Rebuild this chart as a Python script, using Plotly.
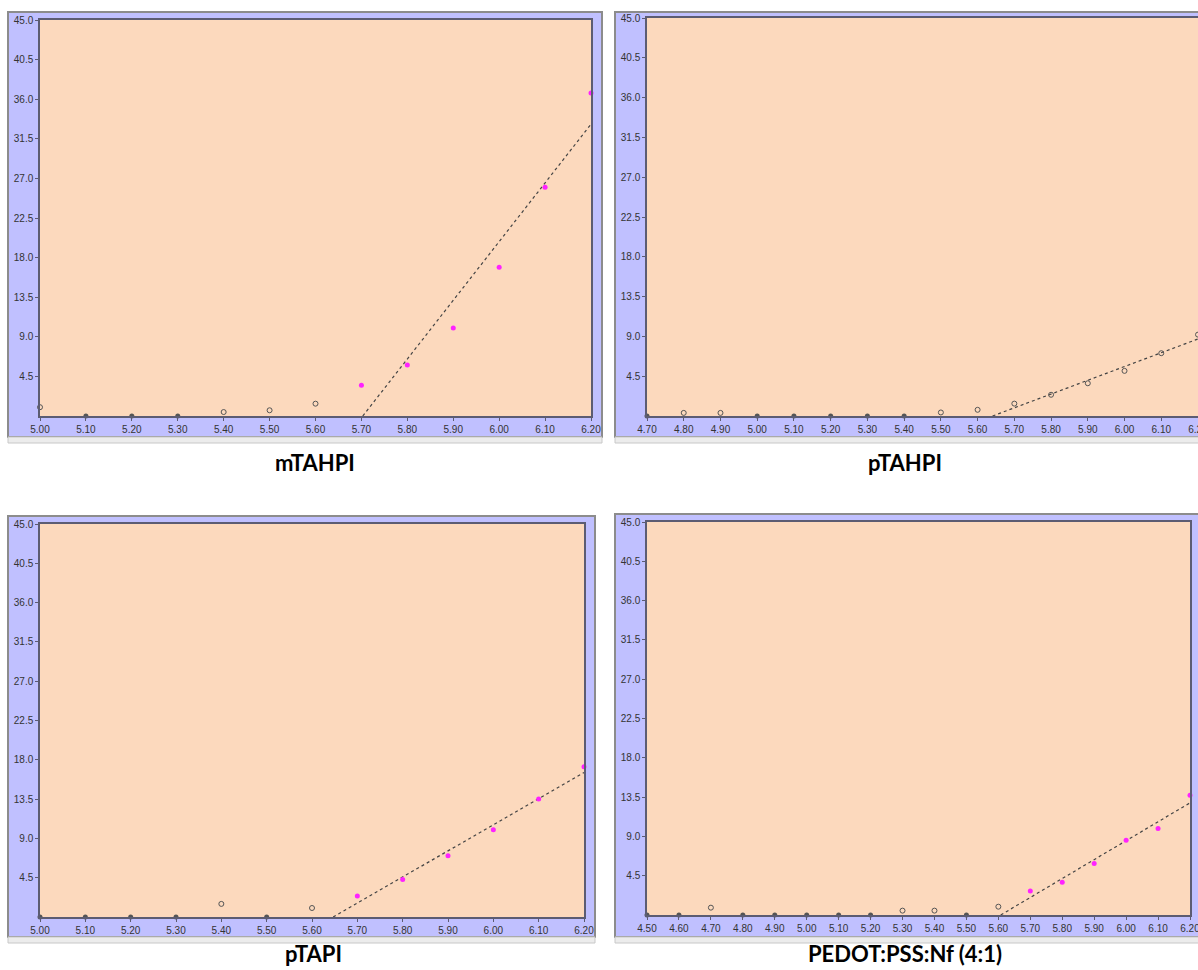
import numpy as np
import plotly.graph_objects as go

W, H = 1198, 970

# ---------------- data ----------------
titles = ["mTAHPI", "pTAHPI", "pTAPI", "PEDOT:PSS:Nf (4:1)"]

x_mTAHPI = [5.00, 5.10, 5.20, 5.30, 5.40, 5.50, 5.60, 5.70, 5.80, 5.90, 6.00, 6.10, 6.20]
y_mTAHPI = [1.0, 0.0, 0.0, 0.0, 0.45, 0.65, 1.4, 3.5, 5.8, 10.0, 16.9, 26.0, 36.7]

x_pTAHPI = [4.70, 4.80, 4.90, 5.00, 5.10, 5.20, 5.30, 5.40, 5.50, 5.60, 5.70, 5.80, 5.90, 6.00, 6.10, 6.20]
y_pTAHPI = [0.0, 0.35, 0.35, 0.0, 0.0, 0.0, 0.0, 0.0, 0.4, 0.7, 1.4, 2.4, 3.7, 5.1, 7.1, 9.2]

x_pTAPI = [5.00, 5.10, 5.20, 5.30, 5.40, 5.50, 5.60, 5.70, 5.80, 5.90, 6.00, 6.10, 6.20]
y_pTAPI = [0.0, 0.0, 0.0, 0.0, 1.5, 0.0, 1.03, 2.4, 4.3, 7.0, 10.0, 13.5, 17.2]

x_pedot = [4.50, 4.60, 4.70, 4.80, 4.90, 5.00, 5.10, 5.20, 5.30, 5.40, 5.50, 5.60,
           5.70, 5.80, 5.90, 6.00, 6.10, 6.20]
y_pedot = [0.0, 0.0, 0.84, 0.0, 0.0, 0.0, 0.0, 0.0, 0.5, 0.5, 0.0, 0.95,
           2.75, 3.75, 5.9, 8.55, 9.9, 13.7]

fit_count = 6  # number of last points used for the linear fit
highlight = [True, False, True, True]  # fit points drawn in magenta

y_ticks = [4.5, 9.0, 13.5, 18.0, 22.5, 27.0, 31.5, 36.0, 40.5, 45.0]

series = [(x_mTAHPI, y_mTAHPI), (x_pTAHPI, y_pTAHPI), (x_pTAPI, y_pTAPI), (x_pedot, y_pedot)]

# ---------------- layout geometry (pixels) ----------------
plot_boxes = [  # x0, x1, ytop, ybottom
    (40, 591, 20, 416),
    (647, 1198, 18, 416),
    (40, 584, 524, 917),
    (647, 1190, 522, 915),
]
frames = [
    (8, 602, 12, 437),
    (615, 1202, 12, 437),
    (8, 595, 516, 937),
    (615, 1202, 514, 937),
]
title_pos = [(315, 462), (905, 462), (313, 953), (905, 953)]

BG = "#FCD9BD"
FRAME = "#C0C0FF"
AXC = "#5c5c72"
DARK = "#555555"
MAG = "#FF22FF"

fig = go.Figure()
layout = dict(
    width=W, height=H,
    margin=dict(l=0, r=0, t=0, b=0),
    paper_bgcolor="white",
    plot_bgcolor=BG,
    showlegend=False,
    shapes=[], annotations=[],
)

for i, ((xs, ys), box, fr) in enumerate(zip(series, plot_boxes, frames)):
    n = i + 1
    xa = "x" if n == 1 else f"x{n}"
    ya = "y" if n == 1 else f"y{n}"
    xs = np.array(xs)
    ys = np.array(ys)

    # marker styles by rule
    fit_mask = np.zeros(len(xs), bool)
    fit_mask[-fit_count:] = True
    zero_mask = ys == 0
    mag_mask = fit_mask & highlight[i]
    open_mask = ~zero_mask & ~mag_mask

    # linear fit over last points
    k, b = np.polyfit(xs[fit_mask], ys[fit_mask], 1)
    x_int = -b / k
    xl = np.array([x_int, xs.max()])
    fig.add_trace(go.Scatter(x=xl, y=k * xl + b, mode="lines", xaxis=xa, yaxis=ya,
                             line=dict(color="#444444", width=1.2, dash="dot"),
                             hoverinfo="skip"))

    fig.add_trace(go.Scatter(x=xs[zero_mask], y=ys[zero_mask], mode="markers",
                             xaxis=xa, yaxis=ya, cliponaxis=False,
                             marker=dict(size=5, color=DARK, symbol="circle")))
    fig.add_trace(go.Scatter(x=xs[open_mask], y=ys[open_mask], mode="markers",
                             xaxis=xa, yaxis=ya, cliponaxis=False,
                             marker=dict(size=5, color=DARK, symbol="circle-open",
                                         line=dict(width=1, color=DARK))))
    if mag_mask.any():
        fig.add_trace(go.Scatter(x=xs[mag_mask], y=ys[mag_mask], mode="markers",
                                 xaxis=xa, yaxis=ya, cliponaxis=False,
                                 marker=dict(size=5, color=MAG, symbol="circle")))

    x0, x1, yt, yb = box
    xticks = [round(v, 2) for v in xs]
    tickfont = dict(family="Liberation Sans, Arial", size=10, color="#333333")
    layout["xaxis" if n == 1 else f"xaxis{n}"] = dict(
        domain=[x0 / W, min(x1 / W, 1.0)], anchor=ya, automargin=False,
        range=[xs.min(), xs.max()],
        tickvals=xticks, ticktext=[f"{v:.2f}" for v in xticks],
        ticklabeloverflow="allow",
        showgrid=False, zeroline=False,
        showline=True, linecolor=AXC, linewidth=1.5, mirror=True,
        ticks="outside", ticklen=3, tickcolor=AXC, tickfont=tickfont,
    )
    layout["yaxis" if n == 1 else f"yaxis{n}"] = dict(
        domain=[1 - yb / H, 1 - yt / H], anchor=xa, automargin=False,
        range=[0, 45],
        tickvals=y_ticks, ticktext=[f"{v:.1f}" for v in y_ticks],
        ticklabeloverflow="allow",
        showgrid=False, zeroline=False,
        showline=True, linecolor=AXC, linewidth=1.5, mirror=True,
        ticks="outside", ticklen=3, tickcolor=AXC, tickfont=tickfont,
    )

    fx0, fx1, fyt, fyb = fr
    layout["shapes"].append(dict(type="rect", xref="paper", yref="paper", layer="below",
                                 x0=fx0 / W, x1=fx1 / W, y0=1 - fyb / H, y1=1 - fyt / H,
                                 fillcolor=FRAME, line=dict(color="#8c8c8c", width=2)))
    layout["shapes"].append(dict(type="rect", xref="paper", yref="paper", layer="below",
                                 x0=fx0 / W, x1=fx1 / W, y0=1 - (fyb + 6) / H, y1=1 - fyb / H,
                                 fillcolor="#ececec", line=dict(color="#c8c8c8", width=1)))
    # plot-area background (peach) above the frame
    layout["shapes"].append(dict(type="rect", xref=f"{xa} domain", yref=f"{ya} domain",
                                 layer="below", x0=0, x1=1, y0=0, y1=1,
                                 fillcolor=BG, line=dict(width=0)))

    tx, ty = title_pos[i]
    layout["annotations"].append(dict(text=f"<b>{titles[i]}</b>", xref="paper", yref="paper",
                                      x=tx / W, y=1 - ty / H, showarrow=False,
                                      xanchor="center", yanchor="middle",
                                      font=dict(family="Lato, Open Sans", size=22, color="black")))

fig.update_layout(**layout)
fig.write_html("out.html")
